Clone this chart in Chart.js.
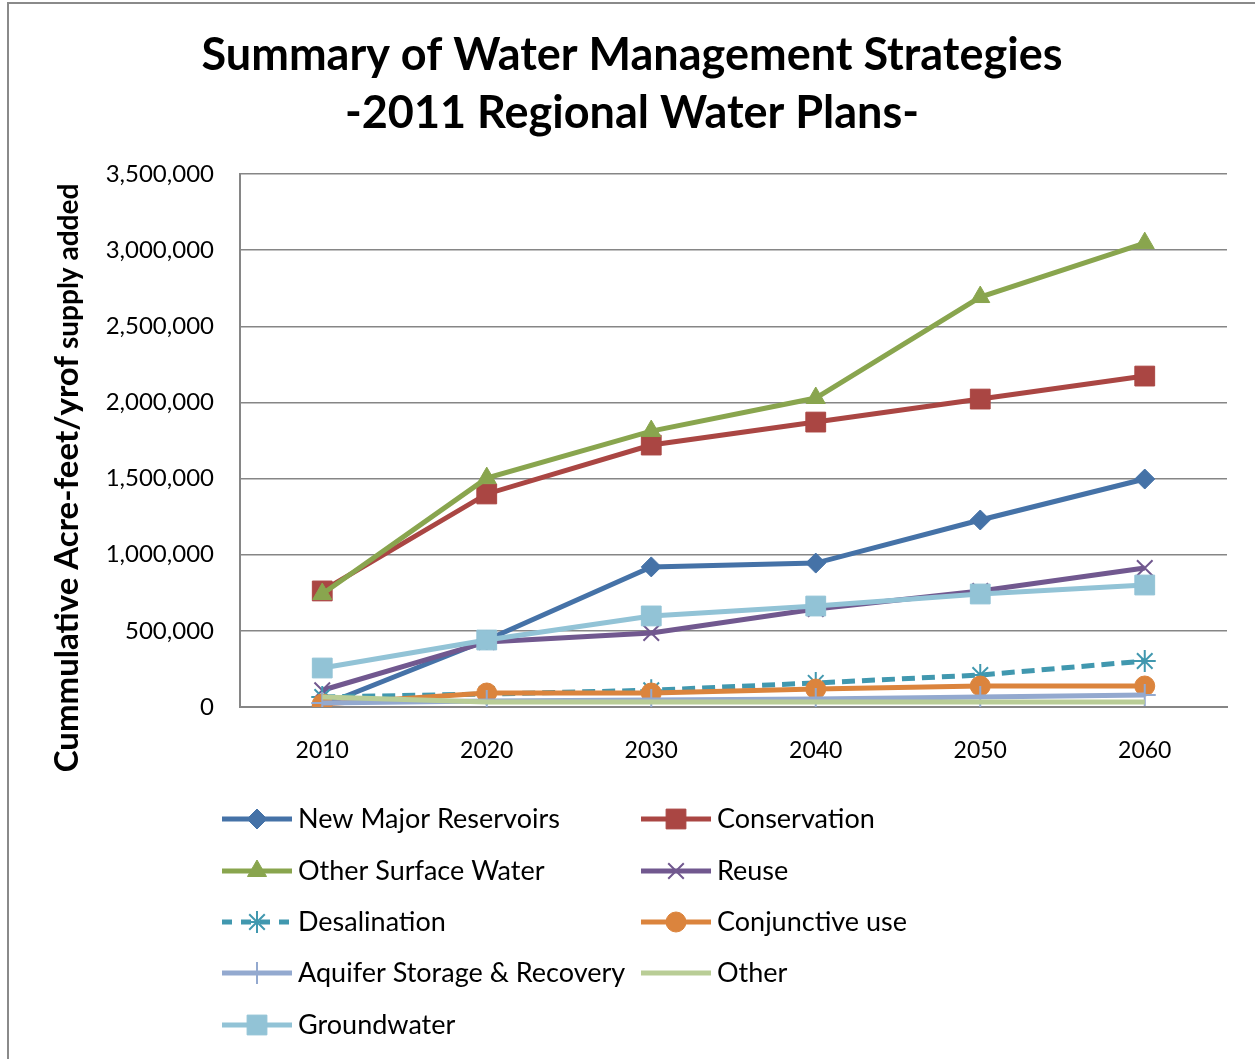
<!DOCTYPE html>
<html>
<head>
<meta charset="utf-8">
<title>Summary of Water Management Strategies</title>
<script src="https://cdn.jsdelivr.net/npm/chart.js@4.4.1/dist/chart.umd.min.js"></script>
<style>
  html, body { margin: 0; padding: 0; background: #fff; overflow: hidden; }
  #frame {
    position: absolute; left: 7px; top: 2px; width: 1300px; height: 1100px;
    border-left: 2px solid #8a8a8a; border-top: 2px solid #8a8a8a;
  }
  #wrap { position: absolute; left: 0; top: 0; width: 1255px; height: 1059px; }
</style>
</head>
<body>
<div id="frame"></div>
<div id="wrap"><canvas id="chart"></canvas></div>
<script>
// Datos (acre-pies/año acumulados)
const years = ['2010', '2020', '2030', '2040', '2050', '2060'];
const yTicks = [0, 500000, 1000000, 1500000, 2000000, 2500000, 3000000, 3500000];

const newMajorReservoirs = [10000, 440000, 920000, 945000, 1228000, 1497000];
const conservation = [762000, 1399000, 1720000, 1871000, 2022000, 2173000];
const otherSurfaceWater = [742000, 1503000, 1812000, 2029000, 2692000, 3046000];
const reuse = [110000, 427000, 486000, 643000, 762000, 913000];
const desalination = [66000, 85000, 110000, 158000, 210000, 302000];
const conjunctiveUse = [20000, 92000, 92000, 118000, 138000, 138000];
const aquiferStorage = [26000, 40000, 46000, 53000, 66000, 79000];
const other = [66000, 33000, 33000, 33000, 33000, 33000];
const groundwater = [256000, 440000, 598000, 663000, 742000, 801000];

const FONT = 'Lato, "Open Sans", sans-serif';

const series = [
  { label: 'New Major Reservoirs', data: newMajorReservoirs, color: '#4572A7', style: 'rectRot', r: 10 },
  { label: 'Conservation', data: conservation, color: '#AA4643', style: 'rect', r: 14 },
  { label: 'Other Surface Water', data: otherSurfaceWater, color: '#89A54E', style: 'triangle', r: 11 },
  { label: 'Reuse', data: reuse, color: '#71588F', style: 'crossRot', r: 11 },
  { label: 'Desalination', data: desalination, color: '#4198AF', style: 'star', r: 11, dash: [13, 7] },
  { label: 'Conjunctive use', data: conjunctiveUse, color: '#DB843D', style: 'circle', r: 10 },
  { label: 'Aquifer Storage & Recovery', data: aquiferStorage, color: '#93A9CF', style: 'cross', r: 11 },
  { label: 'Other', data: other, color: '#B9CD96', style: false, r: 0 },
  { label: 'Groundwater', data: groundwater, color: '#92C3D6', style: 'rect', r: 14 },
];

const thinMarkers = ['crossRot', 'star', 'cross'];

const datasets = series.map((s, i) => ({
  label: s.label,
  data: s.data,
  borderColor: s.color,
  backgroundColor: s.color,
  borderWidth: 5,
  borderDash: s.dash || [],
  pointStyle: s.style,
  pointRadius: s.r,
  pointHoverRadius: s.r,
  pointBorderWidth: thinMarkers.includes(s.style) ? 2 : 1,
  tension: 0,
  order: series.length - i,
}));

// Título, título del eje Y y leyenda dibujados a mano
const decorations = {
  id: 'decorations',
  afterDraw(chart) {
    const ctx = chart.ctx;
    ctx.save();

    // Título
    ctx.fillStyle = '#000';
    ctx.textAlign = 'center';
    ctx.textBaseline = 'middle';
    ctx.font = 'bold 45px ' + FONT;
    ctx.fillText('Summary of Water Management Strategies', 632, 55);
    ctx.fillText('-2011 Regional Water Plans-', 632, 113);

    // Título eje Y (dos tamaños)
    const partA = 'Cummulative Acre-feet/yrof';
    const partB = ' supply added';
    const fontA = 'bold 33px ' + FONT;
    const fontB = 'bold 28px ' + FONT;
    ctx.font = fontA;
    const wA = ctx.measureText(partA).width;
    ctx.font = fontB;
    const wB = ctx.measureText(partB).width;
    ctx.translate(67, 478);
    ctx.rotate(-Math.PI / 2);
    ctx.textAlign = 'left';
    ctx.textBaseline = 'alphabetic';
    const start = -(wA + wB) / 2;
    ctx.font = fontA;
    ctx.fillText(partA, start, 11);
    ctx.font = fontB;
    ctx.fillText(partB, start + wA, 11);
    ctx.setTransform(1, 0, 0, 1, 0, 0);

    // Leyenda en dos columnas
    const cols = [222, 641];
    const rows = [819, 871, 922, 973, 1025];
    chart.data.datasets.forEach((ds, i) => {
      const s = series[i];
      const x = cols[i % 2];
      const y = rows[Math.floor(i / 2)];
      ctx.strokeStyle = s.color;
      ctx.fillStyle = s.color;
      ctx.lineWidth = 5;
      ctx.setLineDash(s.dash ? [10, 9] : []);
      ctx.beginPath();
      ctx.moveTo(x, y);
      ctx.lineTo(x + 70, y);
      ctx.stroke();
      ctx.setLineDash([]);
      if (s.style) {
        ctx.lineWidth = thinMarkers.includes(s.style) ? 2 : 1;
        Chart.helpers.drawPoint(ctx, { pointStyle: s.style, radius: s.r, rotation: 0, borderWidth: ctx.lineWidth }, x + 35, y);
      }
      ctx.fillStyle = '#000';
      ctx.font = '27px ' + FONT;
      ctx.textAlign = 'left';
      ctx.textBaseline = 'middle';
      ctx.fillText(ds.label, x + 76, y);
    });

    ctx.restore();
  }
};

new Chart(document.getElementById('chart'), {
  type: 'line',
  data: { labels: years, datasets },
  options: {
    responsive: true,
    maintainAspectRatio: false,
    animation: false,
    events: [],
    layout: { padding: { left: 0, top: 174, right: 28, bottom: 0 } },
    plugins: {
      legend: { display: false },
      title: { display: false },
      tooltip: { enabled: false },
    },
    scales: {
      x: {
        offset: true,
        grid: { display: false, drawTicks: false },
        border: { display: true, color: '#868686', width: 2 },
        ticks: { color: '#000', font: { family: FONT, size: 23 }, padding: 30 },
        afterFit: (scale) => { scale.height = 352; },
      },
      y: {
        min: 0,
        max: 3500000,
        afterBuildTicks: (scale) => { scale.ticks = yTicks.map(v => ({ value: v })); },
        grid: { color: '#868686', lineWidth: 1.5, drawTicks: false },
        border: { display: true, color: '#868686', width: 2 },
        ticks: {
          color: '#000',
          font: { family: FONT, size: 24 },
          padding: 26,
          callback: (v) => Number(v).toLocaleString('en-US'),
        },
        afterFit: (scale) => { scale.width = 240; },
      },
    },
  },
  plugins: [decorations],
});
</script>
</body>
</html>
